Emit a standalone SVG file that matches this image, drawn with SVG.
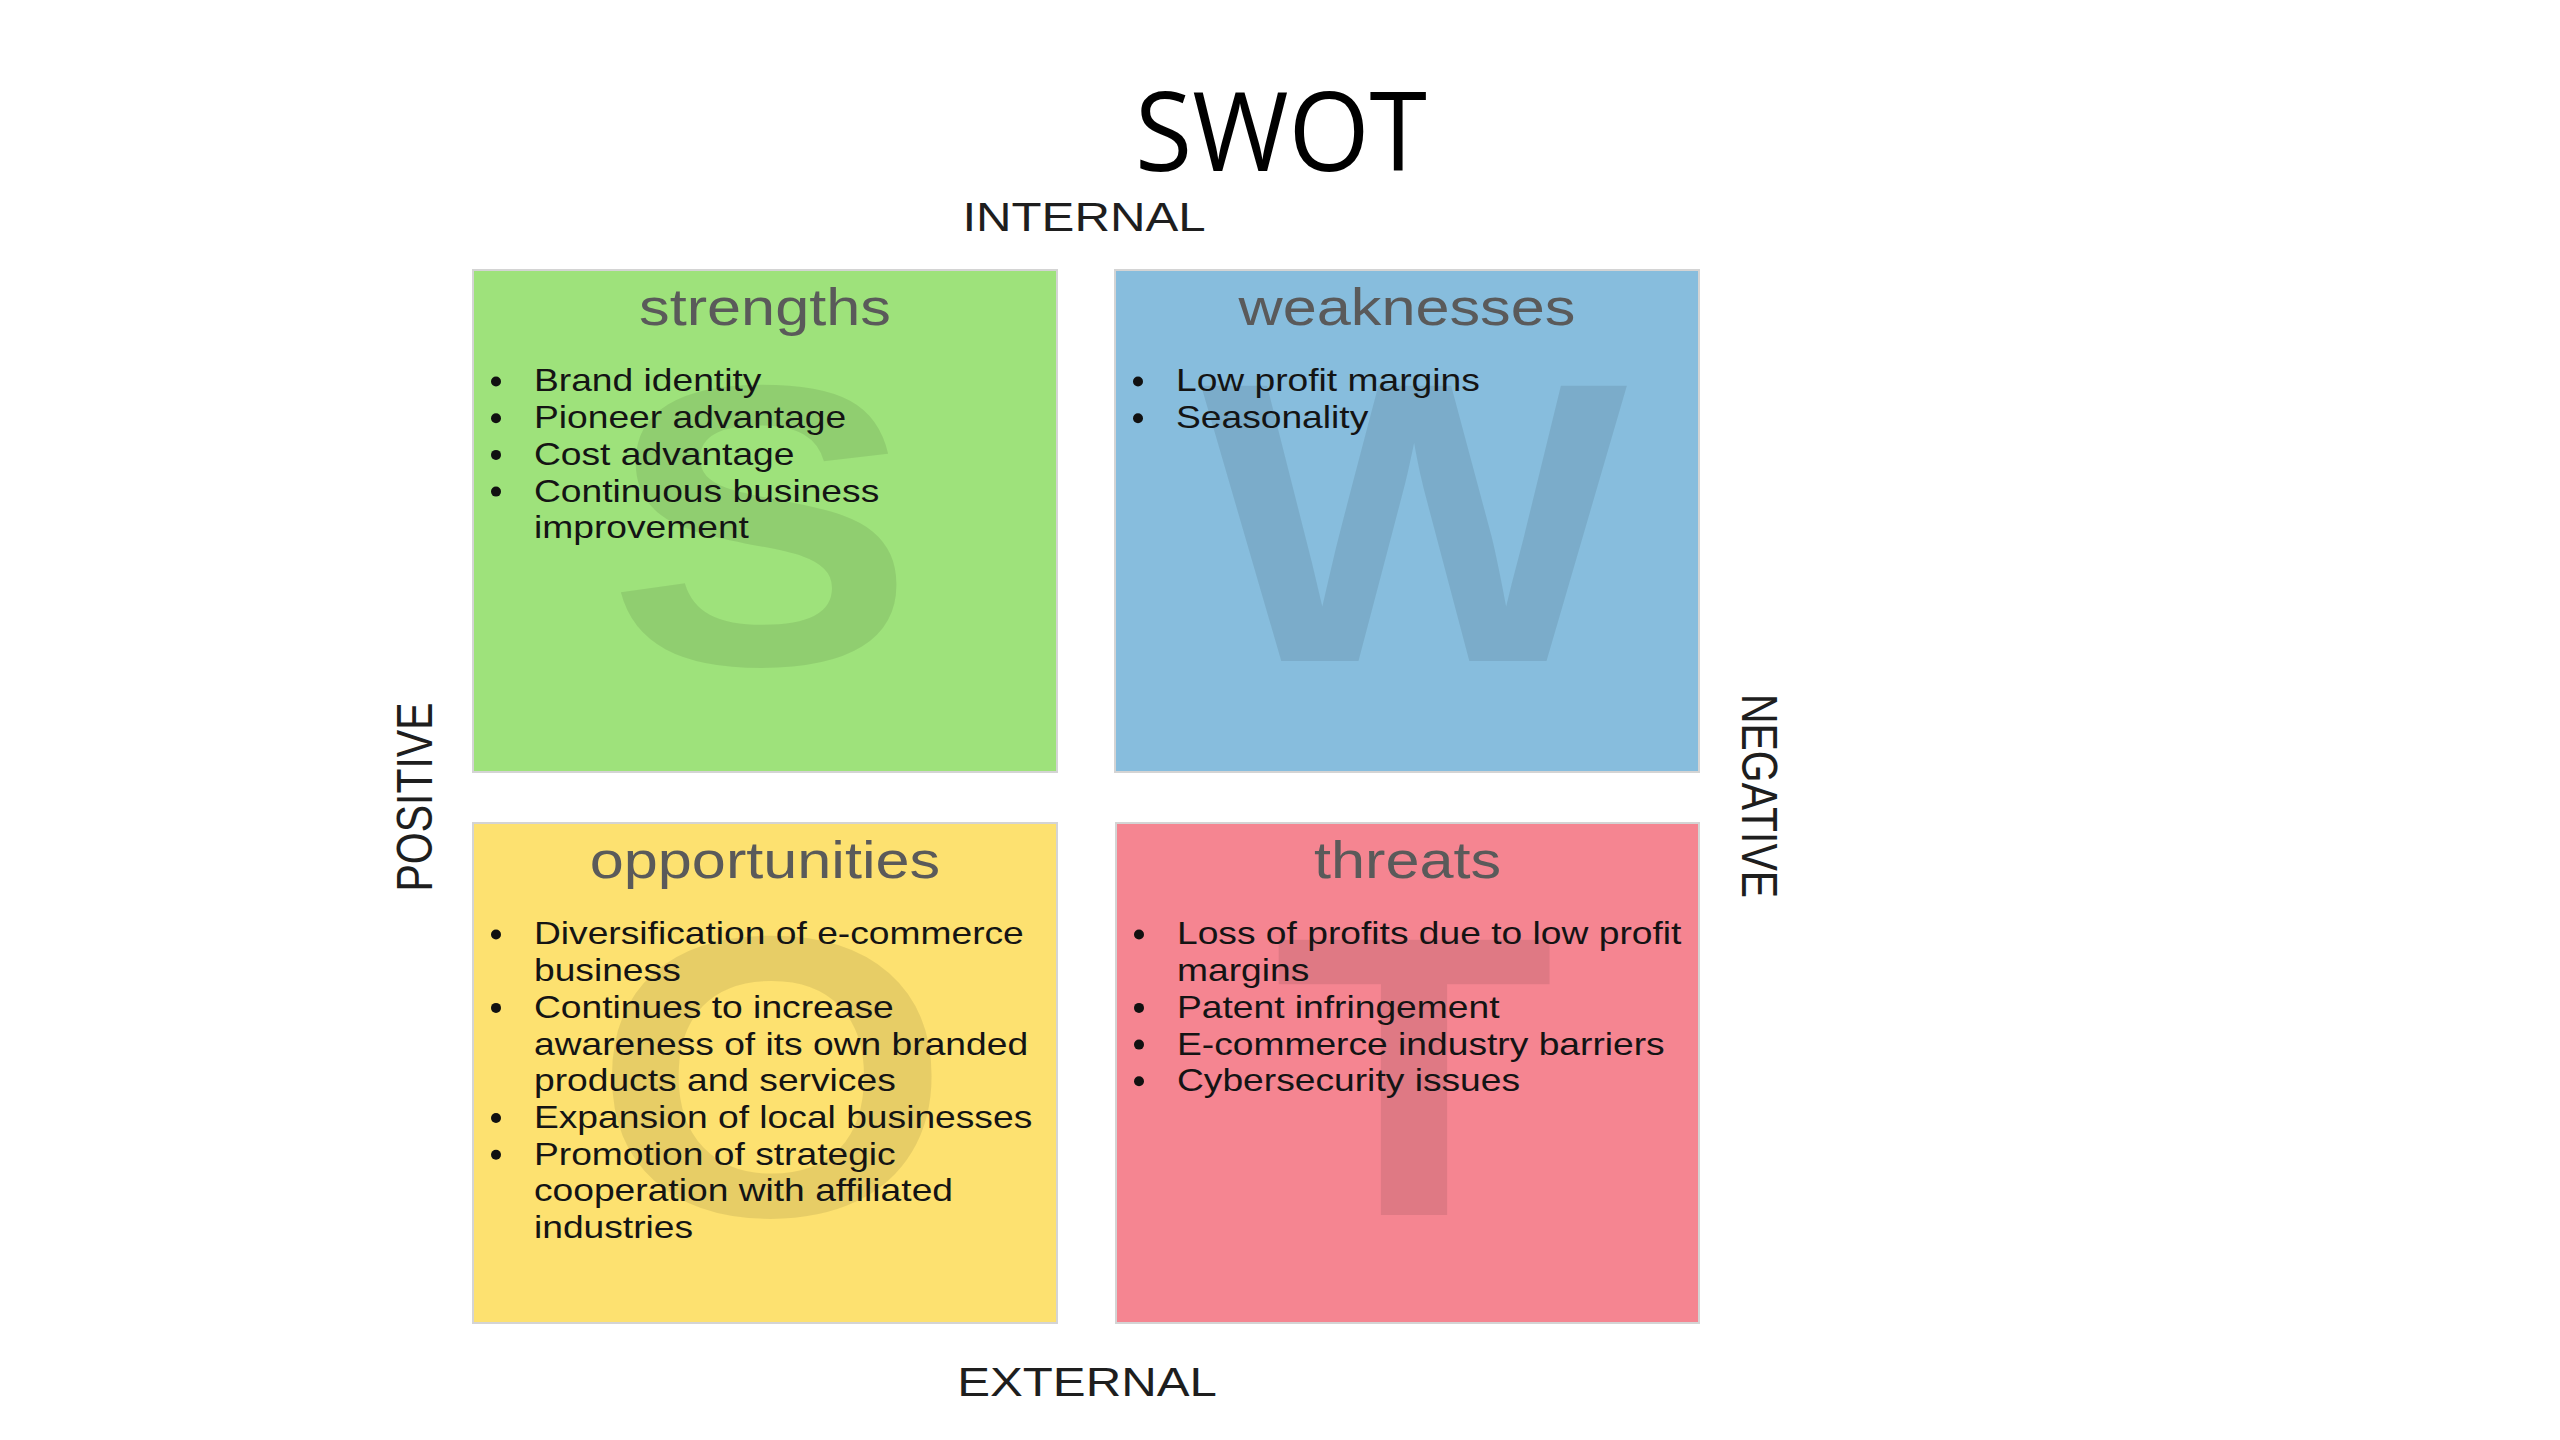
<svg xmlns="http://www.w3.org/2000/svg" width="2560" height="1440" viewBox="0 0 2560 1440">
<style>
.box{stroke:#d4d4d4;stroke-width:2}
.head{font-family:"Liberation Sans",Arial,sans-serif;font-size:51px;fill:#5a5a5a;text-anchor:middle}
.item{font-family:"Liberation Sans",Arial,sans-serif;font-size:31px;fill:#141414}
.wm{font-family:"Liberation Sans",Arial,sans-serif;font-weight:bold;font-size:400px;fill:#000;fill-opacity:0.085;text-anchor:middle}
.axis{font-family:"Liberation Sans",Arial,sans-serif;font-size:41px;fill:#1e1e1e;text-anchor:middle}
.dot{fill:#111}
</style>
<rect width="2560" height="1440" fill="#ffffff"/>
<g id="title">
<text x="1281" y="171" font-family="'Open Sans','Noto Sans',sans-serif" font-size="110" fill="#000" text-anchor="middle" textLength="292" lengthAdjust="spacingAndGlyphs">SWOT</text>
</g>
<g id="axis-labels">
<text class="axis" transform="translate(1084,231) scale(1.2,1)">INTERNAL</text>
<text class="axis" transform="translate(1087,1396) scale(1.2,1)">EXTERNAL</text>
<text class="axis" transform="translate(414,797) scale(1.2,1) rotate(-90)" y="14.7">POSITIVE</text>
<text class="axis" transform="translate(1760,796) scale(1.2,1) rotate(90)" y="14.7">NEGATIVE</text>
</g>
<g id="connectors"></g>
<g id="strengths">
<rect class="box" x="473" y="270" width="584" height="502" fill="#9ee27b"/>
<text class="wm" transform="translate(761,664) scale(1.15,1)">S</text>
<g transform="translate(473,270) scale(1.2,1)">
<text class="head" x="243.3" y="55">strengths</text>
<text class="item" x="50.8" y="121.5">Brand identity</text>
<text class="item" x="50.8" y="158.2">Pioneer advantage</text>
<text class="item" x="50.8" y="194.9">Cost advantage</text>
<text class="item" x="50.8" y="231.6">Continuous business</text>
<text class="item" x="50.8" y="268.3">improvement</text>
</g>
<circle class="dot" cx="496" cy="381.5" r="5"/>
<circle class="dot" cx="496" cy="418.2" r="5"/>
<circle class="dot" cx="496" cy="454.9" r="5"/>
<circle class="dot" cx="496" cy="491.6" r="5"/>
</g>
<g id="weaknesses">
<rect class="box" x="1115" y="270" width="584" height="502" fill="#87bddd"/>
<text class="wm" transform="translate(1414,661) scale(1.13,1)">W</text>
<g transform="translate(1115,270) scale(1.2,1)">
<text class="head" x="243.3" y="55">weaknesses</text>
<text class="item" x="50.8" y="121.5">Low profit margins</text>
<text class="item" x="50.8" y="158.2">Seasonality</text>
</g>
<circle class="dot" cx="1138" cy="381.5" r="5"/>
<circle class="dot" cx="1138" cy="418.2" r="5"/>
</g>
<g id="opportunities">
<rect class="box" x="473" y="823" width="584" height="500" fill="#fde170"/>
<text class="wm" transform="translate(772,1215) scale(1.15,1)">O</text>
<g transform="translate(473,823) scale(1.2,1)">
<text class="head" x="243.3" y="55">opportunities</text>
<text class="item" x="50.8" y="121.5">Diversification of e-commerce</text>
<text class="item" x="50.8" y="158.2">business</text>
<text class="item" x="50.8" y="194.9">Continues to increase</text>
<text class="item" x="50.8" y="231.6">awareness of its own branded</text>
<text class="item" x="50.8" y="268.3">products and services</text>
<text class="item" x="50.8" y="305">Expansion of local businesses</text>
<text class="item" x="50.8" y="341.7">Promotion of strategic</text>
<text class="item" x="50.8" y="378.4">cooperation with affiliated</text>
<text class="item" x="50.8" y="415.1">industries</text>
</g>
<circle class="dot" cx="496" cy="934.5" r="5"/>
<circle class="dot" cx="496" cy="1007.9" r="5"/>
<circle class="dot" cx="496" cy="1118" r="5"/>
<circle class="dot" cx="496" cy="1154.7" r="5"/>
</g>
<g id="threats">
<rect class="box" x="1116" y="823" width="583" height="500" fill="#f58591"/>
<text class="wm" transform="translate(1414,1215) scale(1.15,1)">T</text>
<g transform="translate(1116,823) scale(1.2,1)">
<text class="head" x="243" y="55">threats</text>
<text class="item" x="50.8" y="121.5">Loss of profits due to low profit</text>
<text class="item" x="50.8" y="158.2">margins</text>
<text class="item" x="50.8" y="194.9">Patent infringement</text>
<text class="item" x="50.8" y="231.6">E-commerce industry barriers</text>
<text class="item" x="50.8" y="268.3">Cybersecurity issues</text>
</g>
<circle class="dot" cx="1139" cy="934.5" r="5"/>
<circle class="dot" cx="1139" cy="1007.9" r="5"/>
<circle class="dot" cx="1139" cy="1044.6" r="5"/>
<circle class="dot" cx="1139" cy="1081.3" r="5"/>
</g>
</svg>
